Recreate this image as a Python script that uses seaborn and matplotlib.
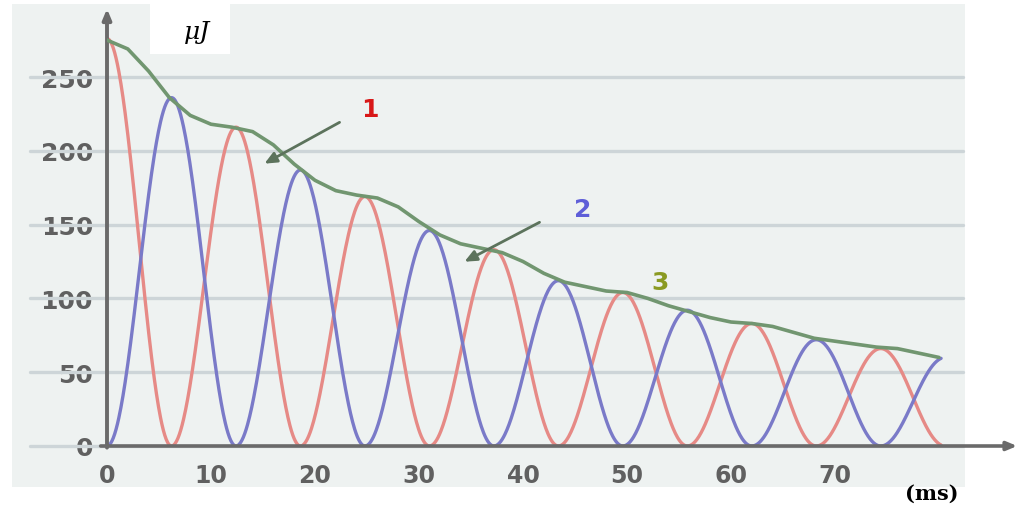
import numpy as np
import pandas as pd
import matplotlib
matplotlib.use("Agg")
import matplotlib.pyplot as plt
import seaborn as sns
from matplotlib.patches import Rectangle, FancyArrowPatch

# ---- data ----
period_ms = 12.4  # spacing between successive peaks of one curve (ms)
red_peak_t = [0.0, 12.4, 24.8, 37.2, 49.6, 62.0, 74.4]
red_peak_v = [276, 216, 169, 133, 104, 83, 66]
blue_peak_t = [6.2, 18.6, 31.0, 43.4, 55.8, 68.2, 80.6]
blue_peak_v = [236, 187, 146, 112, 92, 72, 60]
t_end = 80.2

green_t = [0, 2, 4, 6, 8, 10, 12, 14, 16, 18, 20, 22, 24, 26, 28, 30, 32, 34, 36, 38,
           40, 42, 44, 46, 48, 50, 52, 54, 56, 58, 60, 62, 64, 66, 68, 70, 72, 74, 76, 78, 80]
green_v = [275, 269, 254, 236, 224, 218, 216, 213, 204, 191, 180, 173, 170, 168, 162, 152, 143, 137, 134, 131,
           125, 117, 111, 108, 105, 104, 100, 95, 91, 87, 84, 83, 81, 77, 73, 71, 69, 67, 66, 63, 60]

x_ticks = [0, 10, 20, 30, 40, 50, 60, 70]
y_ticks = [0, 50, 100, 150, 200, 250]


def lobes(peak_t, peak_v, t):
    out = np.zeros_like(t)
    for tp, vp in zip(peak_t, peak_v):
        m = np.abs(t - tp) <= period_ms / 2
        out[m] = vp * np.cos(np.pi * (t[m] - tp) / period_ms) ** 2
    return out


t = np.linspace(0, t_end, 1200)
df = pd.DataFrame({
    "t": np.concatenate([t, t]),
    "E": np.concatenate([lobes(red_peak_t, red_peak_v, t), lobes(blue_peak_t, blue_peak_v, t)]),
    "curve": ["1"] * len(t) + ["2"] * len(t),
})
gdf = pd.DataFrame({"t": green_t, "E": green_v})

sns.set_style("white")
W, H = 1028, 510
fig = plt.figure(figsize=(W / 100, H / 100), dpi=100)
fig.patch.set_facecolor("white")
# panel background
fig.patches.append(Rectangle((12 / W, 1 - 488 / H), (965 - 12) / W, (488 - 5) / H,
                             transform=fig.transFigure, facecolor="#eef2f1", edgecolor="none", zorder=-10))
fig.patches.append(Rectangle((150 / W, 1 - 55 / H), 80 / W, 50 / H,
                             transform=fig.transFigure, facecolor="white", edgecolor="none", zorder=-9))

x0, x1 = 107, 1020
y0, y1 = 447, 7
ax = fig.add_axes([x0 / W, 1 - y0 / H, (x1 - x0) / W, (y0 - y1) / H])
ax.set_zorder(1)
ax.set_facecolor("none")
ax.patch.set_alpha(0)
xmax = (x1 - x0) / 10.4
ymax = (y0 - y1) / 1.476
ax.set_xlim(0, xmax)
ax.set_ylim(0, ymax)

# horizontal grid lines extending left past the axis
gx0 = (30 - x0) / (x1 - x0)
gx1 = (963 - x0) / (x1 - x0)
for v in y_ticks:
    ax.axhline(v, xmin=gx0, xmax=gx1, color="#cdd5d8", lw=2.4, clip_on=False, zorder=1)

palette = {"1": "#e68a86", "2": "#7a7ac8"}
sns.lineplot(data=df, x="t", y="E", hue="curve", palette=palette, lw=2.4, ax=ax,
             legend=False, sort=False, zorder=3, estimator=None)
sns.lineplot(data=gdf, x="t", y="E", color="#719670", lw=2.6, ax=ax, zorder=4)

# axes with arrows
for s in ax.spines.values():
    s.set_visible(False)
axis_col = "#6a6a6a"
ax.annotate("", xy=(1.0, 0), xytext=(-0.01, 0), xycoords="axes fraction",
            arrowprops=dict(arrowstyle="-|>,head_length=0.6,head_width=0.25", color=axis_col, lw=2.6))
ax.annotate("", xy=(0, 1.0), xytext=(0, -0.01), xycoords="axes fraction",
            arrowprops=dict(arrowstyle="-|>,head_length=0.6,head_width=0.25", color=axis_col, lw=2.8))

ax.set_xticks(x_ticks)
ax.set_yticks(y_ticks)
ax.set_xticklabels([str(v) for v in x_ticks])
ax.set_yticklabels([str(v) for v in y_ticks])
ax.tick_params(axis="y", length=6, width=2, color="#777777",
               labelsize=18, labelcolor="#606060", pad=4)
ax.tick_params(axis="x", length=5, width=2, color="#777777",
               labelsize=17, labelcolor="#606060", pad=7)
for lab in ax.get_xticklabels() + ax.get_yticklabels():
    lab.set_fontweight("bold")
ax.set_xlabel("")
ax.set_ylabel("")

# unit labels
fig.text(197 / W, 1 - 33 / H, "μJ", fontsize=18, color="black", ha="center", va="center",
         family="DejaVu Serif", style="italic")
fig.text(932 / W, 1 - 494 / H, "(ms)", fontsize=15, color="black", ha="center", va="center",
         family="DejaVu Serif", fontweight="bold")

# curve labels and pointer arrows
fig.text(370 / W, 1 - 110 / H, "1", fontsize=18, color="#d81818", fontweight="bold", ha="center", va="center")
fig.text(583 / W, 1 - 210 / H, "2", fontsize=18, color="#5e5ed8", fontweight="bold", ha="center", va="center")
fig.text(660 / W, 1 - 283 / H, "3", fontsize=18, color="#8a9a22", fontweight="bold", ha="center", va="center")
arrow_kw = dict(arrowstyle="-|>,head_length=0.45,head_width=0.2", color="#5c735c", lw=2.0,
                mutation_scale=16, zorder=5)
fig.add_artist(FancyArrowPatch((342 / W, 1 - 122 / H), (262 / W, 1 - 166 / H),
                               transform=fig.transFigure, **arrow_kw))
fig.add_artist(FancyArrowPatch((542 / W, 1 - 222 / H), (462 / W, 1 - 264 / H),
                               transform=fig.transFigure, **arrow_kw))

fig.savefig("out.png", dpi=100)
